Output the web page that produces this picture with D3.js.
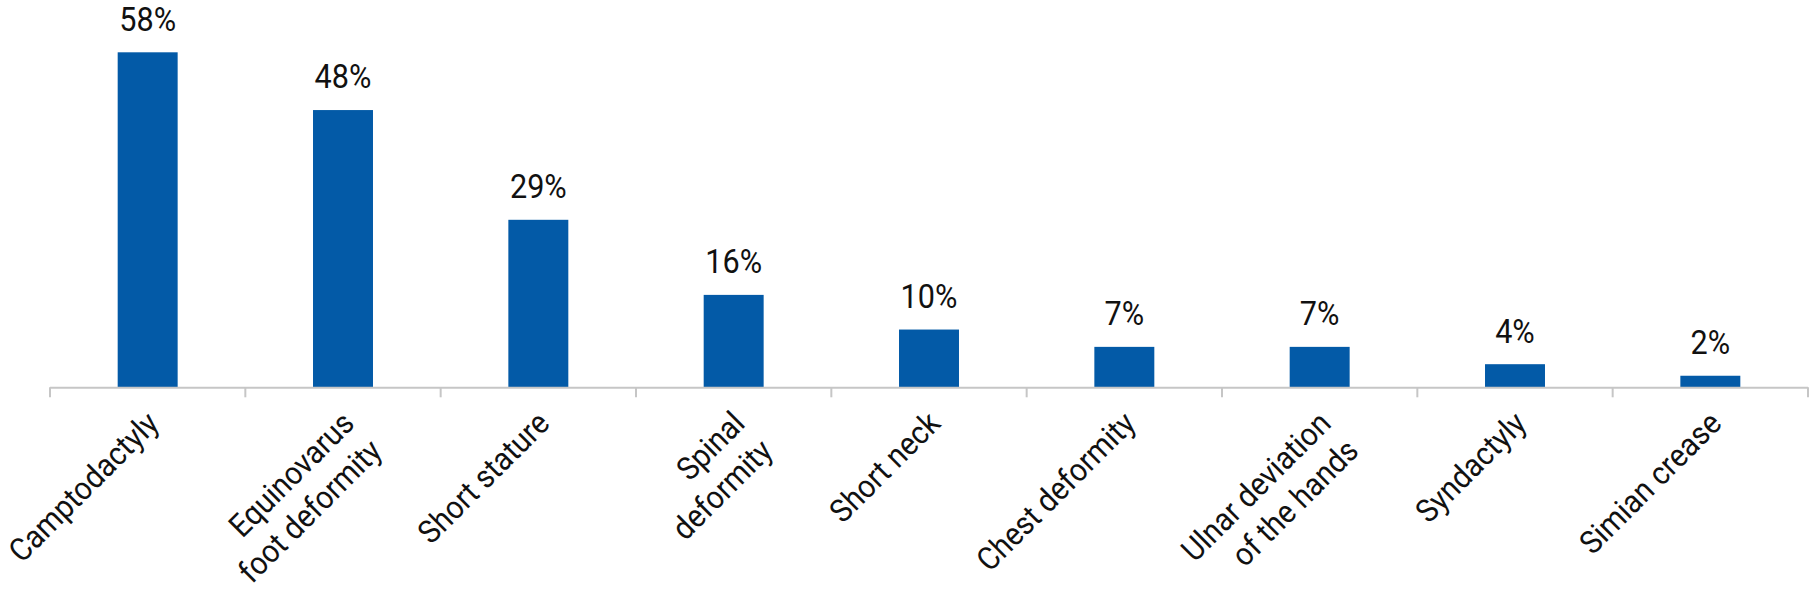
<!DOCTYPE html>
<html>
<head>
<meta charset="utf-8">
<script src="https://cdn.jsdelivr.net/npm/d3@7"></script>
<style>
  html, body { margin: 0; padding: 0; background: #ffffff; }
  svg { display: block; }
</style>
</head>
<body>
<script>
// ---- data ----
const categories = [
  ["Camptodactyly"],
  ["Equinovarus", "foot deformity"],
  ["Short stature"],
  ["Spinal", "deformity"],
  ["Short neck"],
  ["Chest deformity"],
  ["Ulnar deviation", "of the hands"],
  ["Syndactyly"],
  ["Simian crease"]
];
const values = [58, 48, 29, 16, 10, 7, 7, 4, 2];
const valueLabels = ["58%", "48%", "29%", "16%", "10%", "7%", "7%", "4%", "2%"];

// ---- layout ----
const W = 1810, H = 599;
const axisY = 387.3;
const x0 = 50, x1 = 1808;
const keys = categories.map(c => c.join(" "));

const svg = d3.select("body").append("svg")
  .attr("width", W).attr("height", H);

const pi = 0.693;
const x = d3.scaleBand().domain(keys).range([x0, x1])
  .paddingInner(pi).paddingOuter(pi / 2);
const y = d3.scaleLinear().domain([0, 58]).range([axisY, 52.3]);

const step = x.step();
const font = "Roboto, 'Noto Sans', 'DejaVu Sans', sans-serif";

// bars
svg.append("g").selectAll("rect")
  .data(values)
  .join("rect")
  .attr("x", (d, i) => x(keys[i]))
  .attr("y", d => y(d))
  .attr("width", x.bandwidth())
  .attr("height", d => axisY - y(d))
  .attr("fill", "#035aa7");

// axis line and ticks (at category boundaries)
const axisColor = "#c6c6c6";
svg.append("line")
  .attr("x1", x0).attr("x2", x1)
  .attr("y1", axisY + 0.5).attr("y2", axisY + 0.5)
  .attr("stroke", axisColor).attr("stroke-width", 2);
const bounds = keys.map(k => x(k) - step * pi / 2).concat([x(keys[keys.length - 1]) - step * pi / 2 + step]);
svg.append("g").selectAll("line")
  .data(bounds)
  .join("line")
  .attr("x1", d => d).attr("x2", d => d)
  .attr("y1", axisY).attr("y2", axisY + 10)
  .attr("stroke", axisColor).attr("stroke-width", 2);

// value labels
svg.append("g").selectAll("text")
  .data(values)
  .join("text")
  .attr("x", (d, i) => x(keys[i]) + x.bandwidth() / 2)
  .attr("y", d => y(d) - 21.6)
  .attr("text-anchor", "middle")
  .attr("font-family", font)
  .attr("font-size", 34)
  .attr("transform-origin", (d, i) => `${x(keys[i]) + x.bandwidth() / 2}px 0px`)
  .attr("transform", "scale(0.9,1)")
  .attr("fill", "#111")
  .text((d, i) => valueLabels[i]);

// category labels, rotated -45deg, right-aligned
const lab = svg.append("g");
categories.forEach((lines, i) => {
  const cx = x(keys[i]) + x.bandwidth() / 2;
  const t = lab.append("text")
    .attr("transform", `translate(${cx + 13},${axisY + 38}) rotate(-45) scale(0.92,1)`)
    .attr("text-anchor", "end")
    .attr("font-family", font)
    .attr("font-size", 32)
    .attr("fill", "#111");
  lines.forEach((ln, j) => {
    t.append("tspan").attr("x", 0).attr("y", j * 39).text(ln);
  });
});
</script>
</body>
</html>
